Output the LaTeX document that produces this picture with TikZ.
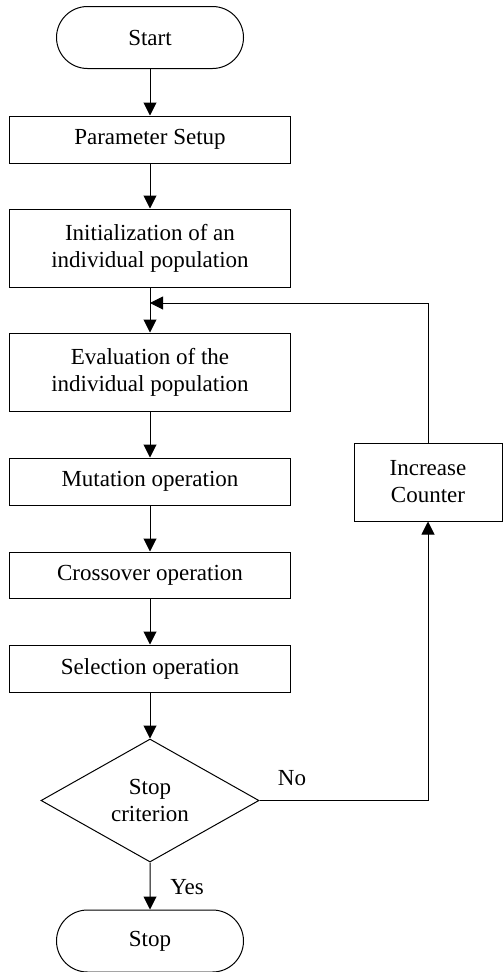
\documentclass[tikz,border=0pt]{standalone}
\usepackage{fontspec}
\setmainfont{Liberation Serif}
\usetikzlibrary{shapes.geometric,shapes.misc,arrows.meta}
\begin{document}
\begin{tikzpicture}[x=1pt,y=1pt,
  every node/.style={font=\fontsize{23}{27}\selectfont},
  procbox/.style={draw, line width=1pt, rectangle, minimum width=281.5pt, align=center, inner sep=0pt},
  termbox/.style={draw, line width=1pt, rounded rectangle, minimum width=187pt, minimum height=62pt, inner sep=0pt},
  decbox/.style={draw, line width=1pt, diamond, aspect=1.77, minimum width=218pt, minimum height=123pt, inner sep=0pt, align=center},
  flow/.style={line width=1pt, -{Triangle[length=13pt,width=13pt]}},
  plain/.style={line width=1pt}
]
\useasboundingbox (0,0) rectangle (503,-972);
\node[termbox] (start) at (150,-37.5) {Start};
\node[procbox, minimum height=47pt] (param) at (150,-139.5) {Parameter Setup};
\node[procbox, minimum height=78pt] (init) at (150,-248) {Initialization of an\\individual population};
\coordinate (junc) at (150,-303);
\node[procbox, minimum height=78pt] (eval) at (150,-372) {Evaluation of the\\individual population};
\node[procbox, minimum height=47pt] (mut) at (150,-481.5) {Mutation operation};
\node[procbox, minimum height=46pt] (cross) at (150,-575) {Crossover operation};
\node[procbox, minimum height=47pt] (sel) at (150,-668.5) {Selection operation};
\node[decbox] (dia) at (150,-800.5) {Stop\\criterion};
\node[termbox] (stop) at (150,-941) {Stop};
\node[draw, line width=1pt, rectangle, minimum width=148pt, minimum height=78pt, inner sep=0pt, align=center] (inc) at (428,-482) {Increase\\Counter};
\node (no) at (292,-778) {No};
\node (yes) at (187,-887) {Yes};

\draw[flow] (start) -- (param);
\draw[flow] (param) -- (init);
\draw[flow] (init) -- (eval);
\draw[flow] (eval) -- (mut);
\draw[flow] (mut) -- (cross);
\draw[flow] (cross) -- (sel);
\draw[flow] (sel) -- (dia);
\draw[flow] (dia) -- (stop);
\draw[flow] (dia.east) -- (dia.east -| inc.south) -- (inc.south);
\draw[flow] (inc.north) -- (inc.north |- junc) -- (junc);
\end{tikzpicture}
\end{document}
